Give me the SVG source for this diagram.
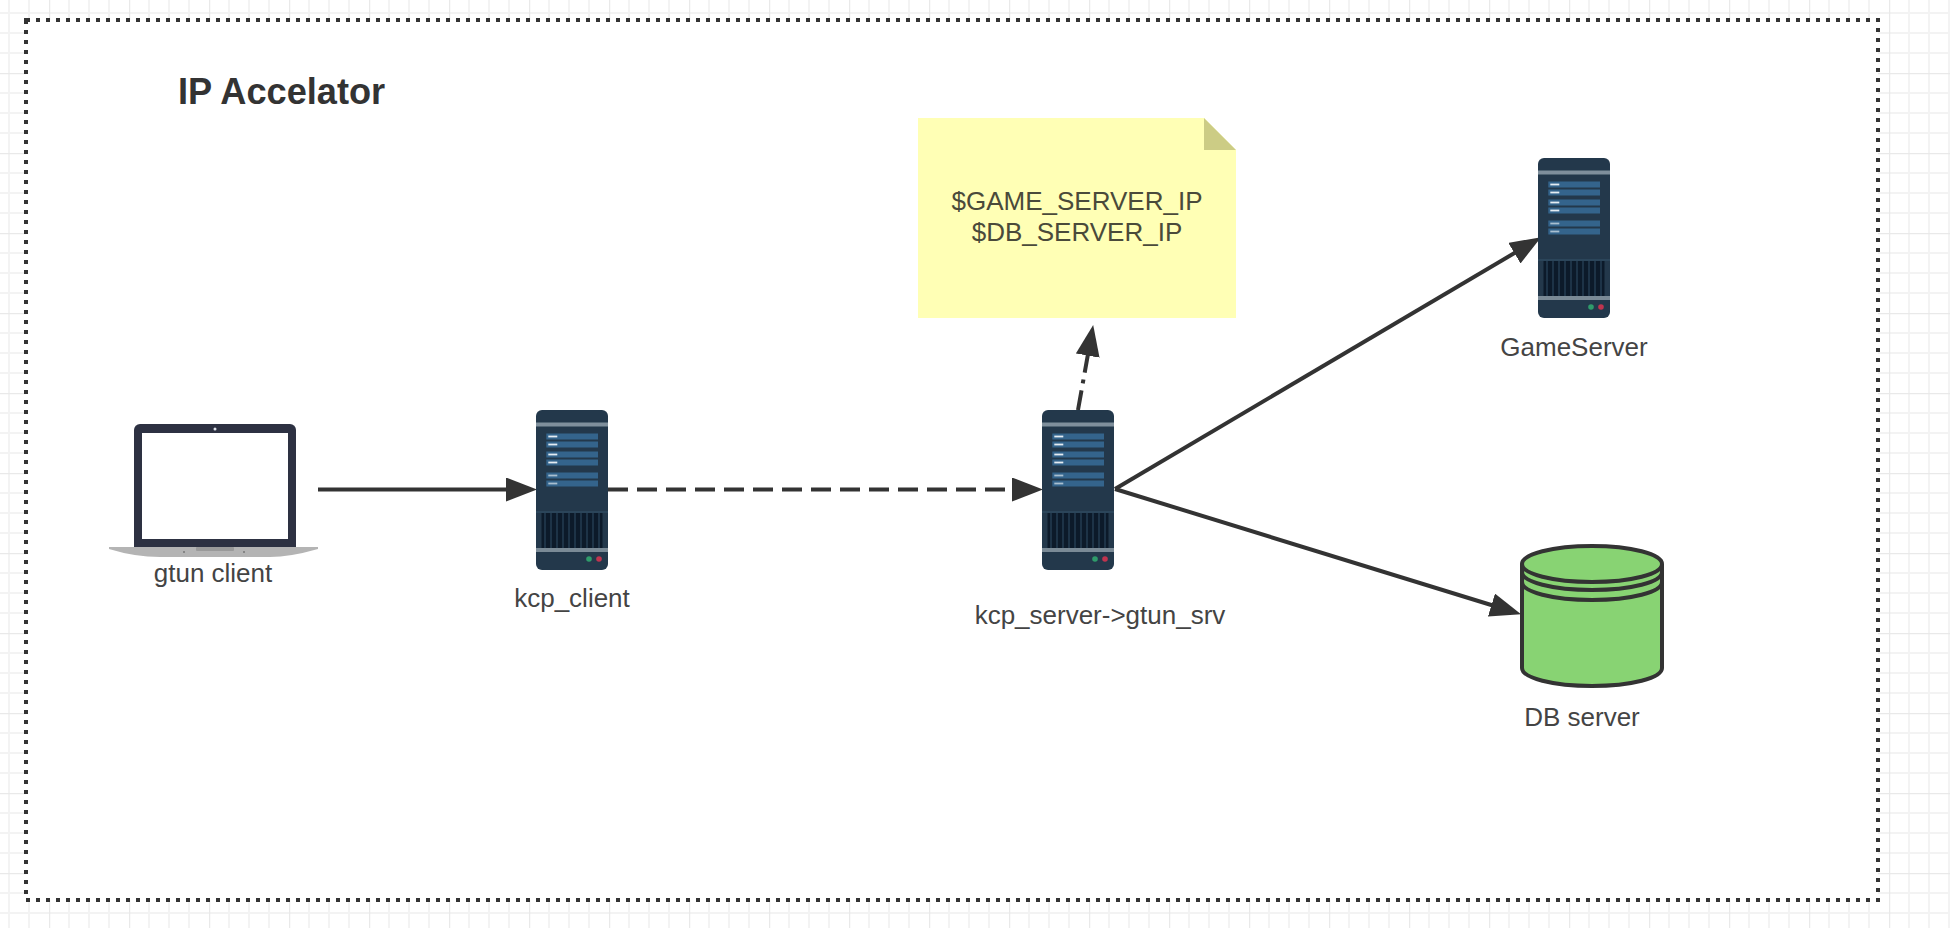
<svg xmlns="http://www.w3.org/2000/svg" width="1950" height="928" viewBox="0 0 1950 928">
<style>
.lbl{font-family:"Liberation Sans",Arial,sans-serif;font-size:26px;fill:#444;text-anchor:middle}
.note{fill:#4a4a3a}
.title{font-family:"Liberation Sans",Arial,sans-serif;font-size:36.2px;font-weight:bold;fill:#333}
.conn{fill:none;stroke:#333;stroke-width:4;marker-end:url(#arrow)}
.db{fill:#88d373;stroke:#333;stroke-width:4}
.rim{fill:none;stroke:#333;stroke-width:4}
.row{fill:#34648c}
.bar{fill:#e4ecf2}
.bar2{fill:#a9bfd0}
</style>
<defs>
<pattern id="grid" width="80" height="80" patternUnits="userSpaceOnUse" x="49" y="73">
<path d="M20 0V80M40 0V80M60 0V80M0 20H80M0 40H80M0 60H80" fill="none" stroke="#f3f3f3" stroke-width="2"/>
<path d="M0 0V80M0 0H80" fill="none" stroke="#e9e9e9" stroke-width="2.5"/>
</pattern>
<pattern id="vent" width="6" height="35" patternUnits="userSpaceOnUse">
<rect width="6" height="35" fill="#0c1a2a"/>
<rect x="2" width="2" height="35" fill="#1d3347"/>
</pattern>
<marker id="arrow" markerUnits="userSpaceOnUse" markerWidth="34" markerHeight="26" refX="10" refY="12" orient="auto">
<path d="M0 0L31 12L0 24Z" fill="#333"/>
</marker>
<symbol id="server" width="72" height="160" viewBox="0 0 72 160">
<rect width="72" height="160" rx="6" fill="#23384b"/>
<rect y="12.5" width="72" height="4" fill="#7f8f9c"/>
<rect class="row" x="10.3" y="23.5" width="51.7" height="6"/>
<rect class="row" x="10.3" y="31.5" width="51.7" height="6"/>
<rect class="row" x="10.3" y="41.5" width="51.7" height="6"/>
<rect class="row" x="10.3" y="49.5" width="51.7" height="6"/>
<rect class="row" x="10.3" y="62.5" width="51.7" height="6"/>
<rect class="row" x="10.3" y="70.5" width="51.7" height="6"/>
<rect class="bar" x="12.3" y="25.6" width="9" height="1.8"/>
<rect class="bar" x="12.3" y="33.6" width="9" height="1.8"/>
<rect class="bar" x="12.3" y="43.6" width="9" height="1.8"/>
<rect class="bar" x="12.3" y="51.6" width="9" height="1.8"/>
<rect class="bar2" x="12.3" y="64.6" width="9" height="1.8"/>
<rect class="bar2" x="12.3" y="72.6" width="9" height="1.8"/>
<rect y="101.5" width="72" height="1" fill="#35526a"/>
<rect x="5.5" y="103" width="61" height="35" fill="url(#vent)"/>
<rect y="138" width="72" height="4" fill="#7a8a96"/>
<circle cx="53" cy="149" r="2.8" fill="#2f9b6b"/>
<circle cx="63" cy="149" r="2.8" fill="#c0344f"/>
</symbol>
</defs>
<rect id="background" width="1950" height="928" fill="#fff"/>
<rect id="grid-bg" width="1950" height="928" fill="url(#grid)"/>
<rect id="frame" x="26" y="20" width="1852" height="880" fill="#fff" stroke="#333" stroke-width="4" stroke-dasharray="4 6"/>
<text id="title" class="title" x="178" y="104">IP Accelator</text>
<g id="connectors">
<path class="conn" d="M318 489.5H516"/>
<path class="conn" d="M608 489.5H1022" stroke-dasharray="20 9"/>
<path class="conn" d="M1078 410L1089.5 345.7" stroke-dasharray="20 7 4 7"/>
<path class="conn" d="M1115 489L1523 248"/>
<path class="conn" d="M1115 489L1501 608"/>
</g>
<g id="gtun-client">
<path d="M134 430a6 6 0 0 1 6-6H290a6 6 0 0 1 6 6V547H134Z" fill="#2d3142"/>
<rect x="142" y="433" width="146" height="106" fill="#fff"/>
<circle cx="215" cy="429" r="1.5" fill="#dfe2ea"/>
<path d="M109 547H318L318 549Q290 557 270 557H160Q135 557 109 549Z" fill="#b4b4b4"/>
<rect x="196" y="547" width="38" height="4" rx="1" fill="#9a9a9a"/>
<circle cx="184" cy="552" r="1" fill="#777"/>
<circle cx="244" cy="552" r="1" fill="#777"/>
<text class="lbl" x="213" y="582">gtun client</text>
</g>
<g id="kcp-client">
<use href="#server" x="536" y="410"/>
<text class="lbl" x="572" y="607">kcp_client</text>
</g>
<g id="kcp-server">
<use href="#server" x="1042" y="410"/>
<text class="lbl" x="1100" y="624">kcp_server-&gt;gtun_srv</text>
</g>
<g id="game-server">
<use href="#server" x="1538" y="158"/>
<text class="lbl" x="1574" y="356">GameServer</text>
</g>
<g id="note">
<path d="M918 118H1204L1236 150V318H918Z" fill="#ffffb5"/>
<path d="M1204 118L1236 150H1204Z" fill="#cccc85"/>
<text class="lbl note" x="1077" y="210">$GAME_SERVER_IP</text>
<text class="lbl note" x="1077" y="241">$DB_SERVER_IP</text>
</g>
<g id="db-server">
<path class="db" d="M1522 564V668C1522 678 1553 686 1592 686S1662 678 1662 668V564C1662 554 1631 546 1592 546S1522 554 1522 564Z"/>
<path class="rim" d="M1522 564C1522 574 1553 582 1592 582S1662 574 1662 564"/>
<path class="rim" d="M1522 572C1522 582 1553 590 1592 590S1662 582 1662 572"/>
<path class="rim" d="M1522 582C1522 592 1553 600 1592 600S1662 592 1662 582"/>
<text class="lbl" x="1582" y="726">DB server</text>
</g>
</svg>
